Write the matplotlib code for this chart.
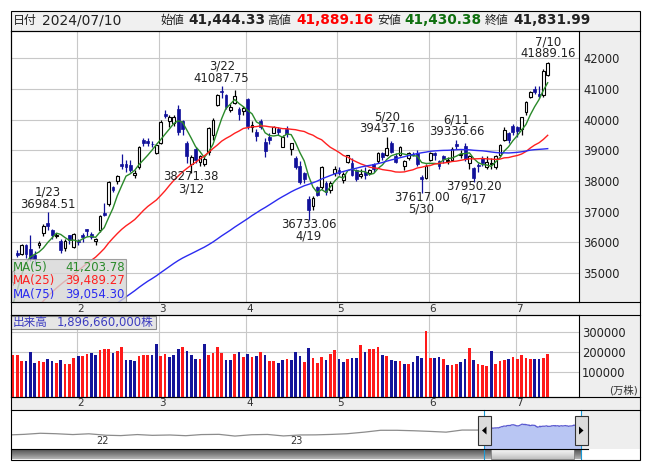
import datetime as dt
import numpy as np
import pandas as pd
import matplotlib
matplotlib.use("Agg")
import matplotlib.pyplot as plt
import matplotlib.dates as mdates
from matplotlib.patches import Rectangle, Polygon
from matplotlib.colors import LinearSegmentedColormap

plt.rcParams['font.family'] = ['DejaVu Sans', 'Noto Sans CJK JP']

# ---------------- Nikkei 225 daily data, 2024/01/11 - 2024/07/10 ----------------
dates = [
    "1/11", "1/12", "1/15", "1/16", "1/17", "1/18", "1/19", "1/22", "1/23", "1/24", "1/25", "1/26", "1/29", "1/30", "1/31",
    "2/1", "2/2", "2/5", "2/6", "2/7", "2/8", "2/9", "2/13", "2/14", "2/15", "2/16", "2/19", "2/20", "2/21", "2/22",
    "2/26", "2/27", "2/28", "2/29",
    "3/1", "3/4", "3/5", "3/6", "3/7", "3/8", "3/11", "3/12", "3/13", "3/14", "3/15", "3/18", "3/19", "3/21", "3/22",
    "3/25", "3/26", "3/27", "3/28", "3/29",
    "4/1", "4/2", "4/3", "4/4", "4/5", "4/8", "4/9", "4/10", "4/11", "4/12", "4/15", "4/16", "4/17", "4/18", "4/19",
    "4/22", "4/23", "4/24", "4/25", "4/26", "4/30",
    "5/1", "5/2", "5/7", "5/8", "5/9", "5/10", "5/13", "5/14", "5/15", "5/16", "5/17", "5/20", "5/21", "5/22", "5/23",
    "5/24", "5/27", "5/28", "5/29", "5/30", "5/31",
    "6/3", "6/4", "6/5", "6/6", "6/7", "6/10", "6/11", "6/12", "6/13", "6/14", "6/17", "6/18", "6/19", "6/20", "6/21",
    "6/24", "6/25", "6/26", "6/27", "6/28",
    "7/1", "7/2", "7/3", "7/4", "7/5", "7/8", "7/9", "7/10",
]

opens = [
    34700, 35650, 35620, 35900, 35770, 35600, 35900, 36300, 36620, 36400, 36190, 36050, 35800, 36230, 35850,
    36050, 36250, 36420, 36280, 36050, 36400, 36950, 37250, 37790, 38000, 38540, 38550, 38520, 38200, 38460,
    39350, 39300, 39220, 38900,
    39250, 40200, 39950, 39900, 40344, 39950, 39240, 38550, 39050, 38620, 38550, 38950, 39500, 40490, 40950,
    40800, 40330, 40550, 40350, 40280,
    40670, 39750, 39600, 39950, 39284, 39420, 39580, 39700, 39120, 39700, 39050, 38750, 38500, 38250, 37426,
    37200, 37800, 37808, 37930, 37700, 38250,
    38350, 38027, 38630, 38600, 38350, 38150, 38300, 38250, 38550, 38650, 38900, 38850, 39230, 38830, 38850,
    38500, 38750, 38880, 38900, 38120, 38100,
    38700, 38900, 38660, 38820, 38650, 38700, 39220, 38850, 39150, 38580, 38415, 38520, 38750, 38450, 38560,
    38450, 38850, 39344, 39550, 39800,
    39750, 39700, 40250, 40750, 41000, 40850, 40800, 41444.33,
]

highs = [
    35100, 35750, 35950, 35950, 36240, 35700, 36050, 36600, 36984.51, 36450, 36300, 36100, 36100, 36250, 36300,
    36100, 36300, 36450, 36350, 36150, 36900, 37287, 38000, 37850, 38200, 38865, 38700, 38700, 38350, 39156,
    39400, 39400, 39300, 39200,
    39990, 40314, 40150, 40150, 40472, 40000, 39300, 38850, 39100, 38850, 38850, 39750, 40050, 40850, 41087.75,
    40850, 40500, 40979, 40400, 40450,
    40697, 39950, 39700, 40030, 39400, 39550, 39800, 39750, 39500, 39780, 39250, 38800, 38650, 38300, 37500,
    37500, 37850, 38500, 38000, 38000, 38500,
    38450, 38300, 38863, 38750, 38400, 38400, 38450, 38400, 38600, 38950, 38950, 39437.16, 39300, 38900, 39150,
    38700, 38950, 38950, 39000, 38200, 38550,
    38950, 38950, 38700, 38850, 38780, 39100, 39336.66, 39000, 39250, 38850, 38450, 38600, 38800, 38800, 38750,
    38850, 39200, 39760, 39600, 39850,
    39800, 40100, 40600, 40950, 41100, 41100, 41650, 41889.16,
]

lows = [
    34600, 35530, 35600, 35500, 35380, 35300, 35800, 36200, 36400, 36100, 36150, 35650, 35700, 35950, 35800,
    35900, 36000, 36200, 36100, 35900, 36350, 36850, 37200, 37650, 37900, 38400, 38300, 38300, 38100, 38400,
    39150, 39150, 39100, 38880,
    39200, 40050, 39750, 39800, 39500, 39500, 38600, 38271.38, 38600, 38500, 38480, 38850, 39350, 40450, 40700,
    40350, 40250, 40500, 40000, 40150,
    39700, 39600, 39300, 39700, 38774, 39200, 39550, 39500, 39100, 39450, 38850, 38400, 37900, 37950, 36733.06,
    37050, 37500, 37750, 37550, 37600, 38150,
    38200, 37950, 38600, 38150, 38000, 38100, 38050, 38200, 38300, 38600, 38700, 38800, 38900, 38600, 38800,
    38367, 38700, 38800, 38500, 37617.00, 38050,
    38650, 38700, 38400, 38600, 38550, 38650, 39050, 38750, 38650, 38400, 37950.20, 38300, 38500, 38400, 38400,
    38400, 38800, 39300, 39250, 39500,
    39450, 39500, 40150, 40700, 40850, 40700, 40750, 41430.38,
]

closes = [
    35049.86, 35577.11, 35901.79, 35619.18, 35477.75, 35466.17, 35963.27, 36546.95, 36517.57, 36226.48, 36236.47,
    35751.07, 36026.94, 36065.86, 36286.71,
    36011.46, 36158.02, 36354.16, 36160.66, 36119.92, 36863.28, 36897.42, 37963.97, 37703.32, 38157.94, 38487.24,
    38470.38, 38363.61, 38262.16, 39098.68, 39233.71, 39239.52, 39208.03, 39166.19,
    39910.82, 40109.23, 40097.63, 40090.78, 39598.71, 39688.94, 38820.49, 38797.51, 38695.97, 38807.38, 38707.64,
    39740.44, 40003.60, 40815.66, 40888.43, 40414.12, 40398.03, 40762.73, 40168.07, 40369.44,
    39803.09, 39838.91, 39451.85, 39773.13, 38992.08, 39347.04, 39773.14, 39581.81, 39442.63, 39523.55, 39232.80,
    38471.20, 37961.80, 38079.70, 37068.35, 37438.61, 37552.16, 38460.08, 37628.48, 37934.76, 38405.66,
    38274.05, 38236.07, 38835.10, 38202.37, 38073.98, 38229.11, 38179.46, 38356.06, 38385.73, 38920.26, 38787.38,
    39069.68, 38946.93, 38617.10, 39103.22, 38646.11, 38900.02, 38855.37, 38556.87, 38054.13, 38487.90,
    38923.03, 38837.46, 38490.17, 38703.51, 38683.93, 39038.16, 39134.79, 38876.71, 38720.47, 38814.56, 38102.44,
    38482.11, 38570.76, 38633.02, 38596.47, 38804.65, 39173.15, 39667.07, 39341.54, 39583.08,
    39631.06, 40074.69, 40580.76, 40913.65, 40912.37, 40780.70, 41580.17, 41831.99,
]

# volume in units of 10,000 shares (万株)
volumes = [
    185000, 185000, 156000, 156000, 200000, 146000, 156000, 152000, 166000, 156000, 146000, 161000, 141000, 141000,
    170000,
    180000, 180000, 190000, 197000, 185000, 208000, 215000, 215000, 197000, 205000, 225000, 161000, 161000, 156000,
    180000, 185000, 185000, 185000, 239000,
    180000, 190000, 175000, 185000, 215000, 225000, 205000, 185000, 166000, 166000, 239000, 185000, 195000, 225000,
    195000, 161000, 161000, 190000, 200000, 175000,
    190000, 175000, 180000, 200000, 185000, 156000, 156000, 146000, 161000, 166000, 161000, 200000, 180000, 151000,
    220000, 170000, 146000, 177000, 161000, 190000, 210000,
    164000, 151000, 164000, 169000, 169000, 234000, 198000, 213000, 213000, 223000, 185000, 180000, 161000, 154000,
    154000, 141000, 141000, 151000, 180000, 170000, 303000,
    170000, 170000, 175000, 166000, 136000, 136000, 141000, 151000, 166000, 220000, 161000, 141000, 136000, 131000,
    205000, 141000, 156000, 161000, 166000, 175000,
    166000, 185000, 170000, 166000, 166000, 166000, 170000, 189666,
]

# closes before the displayed window (2023/09/20 - 2024/01/10), used for the moving averages
prior_closes = [
    33023, 32571, 32402, 32678, 32315, 32371, 31872, 31857,
    31759, 31237, 30526, 31075, 30994, 31746, 31936, 32494, 32315, 31659, 32040, 32042, 31430, 31259, 30999, 31062,
    31269, 30601, 30991, 30696, 30858,
    31601, 31949, 32708, 32271, 32166, 32646, 32568, 32585, 32695, 33519, 33424, 33585, 33388, 33354, 33451, 33625,
    33447, 33408, 33321, 33486,
    33431, 33231, 33231, 33445, 32858, 32307, 32791, 32843, 32926, 32686, 32970, 32758, 33219, 33675, 33140, 33169,
    33254, 33305, 33681, 33539, 33464,
    33288, 33377, 33763, 34441,
]

# month-end closes for the overview strip (before the displayed window)
nav_dates = [
    "2021-07-30", "2021-08-31", "2021-09-30", "2021-10-29", "2021-11-30", "2021-12-30",
    "2022-01-31", "2022-02-28", "2022-03-31", "2022-04-28", "2022-05-31", "2022-06-30",
    "2022-07-29", "2022-08-31", "2022-09-30", "2022-10-31", "2022-11-30", "2022-12-30",
    "2023-01-31", "2023-02-28", "2023-03-31", "2023-04-28", "2023-05-31", "2023-06-30",
    "2023-07-31", "2023-08-31", "2023-09-29", "2023-10-31", "2023-11-30", "2023-12-29",
]
nav_closes = [
    27283.59, 28089.54, 29452.66, 28892.69, 27821.76, 28791.71,
    27001.98, 26526.82, 27821.43, 26847.90, 27279.80, 26393.04,
    27801.64, 28091.53, 25937.21, 27587.46, 27968.99, 26094.50,
    27327.11, 27445.56, 28041.48, 28856.44, 30887.88, 33189.04,
    33172.22, 32619.34, 31857.62, 30858.85, 33486.89, 33464.17,
]

ma_periods = [5, 25, 75]
ma_colors = ['#2a8a2a', '#ff2020', '#2b2bf0']

marks = [("1/23", "high"), ("3/12", "low"), ("3/22", "high"), ("4/19", "low"), ("5/20", "high"),
         ("5/30", "low"), ("6/11", "high"), ("6/17", "low"), ("7/10", "high")]

# ---------------- figure layout (pixel based) ----------------
W, H = 653, 470
fig = plt.figure(figsize=(W / 100, H / 100), dpi=100)
fig.patch.set_facecolor('white')


def rect(x0, y0, x1, y1):
    return [x0 / W, 1 - y1 / H, (x1 - x0) / W, (y1 - y0) / H]


PANEL = '#eeeeee'
NAVY = '#10109a'
GRID = '#c8c8c8'

bg = fig.add_axes([0, 0, 1, 1], zorder=0)
bg.set_xlim(0, W)
bg.set_ylim(H, 0)
bg.axis('off')

fg = fig.add_axes([0, 0, 1, 1], zorder=10)
fg.set_xlim(0, W)
fg.set_ylim(H, 0)
fg.axis('off')
fg.patch.set_alpha(0)


def fill(ax, x0, y0, x1, y1, fc, ec='none', lw=0.0, z=1, alpha=1.0):
    ax.add_patch(Rectangle((x0, y0), x1 - x0, y1 - y0, facecolor=fc, edgecolor=ec,
                           linewidth=lw, zorder=z, alpha=alpha))


fill(bg, 10.5, 10.5, 640, 31, '#f0f0f0')
fill(bg, 579, 31, 640, 302, PANEL)
fill(bg, 11, 302, 640, 315, PANEL)
fill(bg, 579, 315, 640, 397, PANEL)
fill(bg, 11, 397, 640, 410, PANEL)
fill(bg, 581, 410, 640, 448.5, PANEL)

o = np.array(opens, float)
h = np.array(highs, float)
l = np.array(lows, float)
c = np.array(closes, float)
v = np.array(volumes, float)
x = np.arange(len(c))
XMIN, XMAX = -0.45, 130.2

months = [int(d.split('/')[0]) for d in dates]
month_idx = [i for i in range(1, len(months)) if months[i] != months[i - 1]]
month_pos = [i - 0.35 for i in month_idx]
month_lab = [str(months[i]) for i in month_idx]

# ---------------- price panel ----------------
ax = fig.add_axes(rect(11, 31, 579, 302), zorder=2)
ax.set_xlim(XMIN, XMAX)
ax.set_ylim(34053, 42891)
ax.set_facecolor('white')
ax.set_yticks(np.arange(35000, 42001, 1000))
ax.yaxis.tick_right()
ax.tick_params(axis='y', length=0, pad=3, labelsize=8.3, labelcolor='#222222')
ax.set_xticks(month_pos)
ax.tick_params(axis='x', length=0, labelbottom=False)
ax.grid(True, color=GRID, lw=0.8)
ax.set_axisbelow(True)
for s in ax.spines.values():
    s.set_color('black')
    s.set_linewidth(0.8)

up = c >= o
ax.vlines(x[up], l[up], h[up], color='black', lw=0.9, zorder=3)
ax.vlines(x[~up], l[~up], h[~up], color=NAVY, lw=0.9, zorder=3)
ax.bar(x[up], c[up] - o[up], bottom=o[up], width=0.62, facecolor='white',
       edgecolor='black', linewidth=0.8, zorder=4)
ax.bar(x[~up], o[~up] - c[~up], bottom=c[~up], width=0.66, color=NAVY,
       edgecolor=NAVY, linewidth=0.5, zorder=4)

all_close = pd.Series(prior_closes + closes, dtype=float)
ma_last = []
for p, col in zip(ma_periods, ma_colors):
    ma = all_close.rolling(p).mean().to_numpy()[len(prior_closes):]
    ax.plot(x, ma, color=col, lw=1.0, zorder=5)
    ma_last.append(ma[-1])

for d, kind in marks:
    i = dates.index(d)
    if kind == "high":
        val, dv, dd = h[i], 8, 20
    else:
        val, dv, dd = l[i], -4.3, -16.6
    ax.annotate(f"{val:.2f}", xy=(i, val), xytext=(0, dv), textcoords='offset pixels',
                ha='center', va='center', fontsize=8.4, color='#222222', zorder=7)
    ax.annotate(d, xy=(i, val), xytext=(0, dd), textcoords='offset pixels',
                ha='center', va='center', fontsize=8.4, color='#222222', zorder=7)

for mp, ml in zip(month_pos, month_lab):
    ax.annotate(ml, xy=(mp, 0), xycoords=('data', 'axes fraction'), xytext=(3.5, -6.5),
                textcoords='offset pixels', ha='center', va='center', fontsize=7.5,
                color='#333333', annotation_clip=False)

# moving-average legend box
aw, ah = 568.0, 271.0
ax.add_patch(Rectangle((0, 0), 115 / aw, 43 / ah, transform=ax.transAxes, facecolor='#d6d6d6',
                       edgecolor='#8c8c8c', linewidth=0.8, alpha=0.8, zorder=8))
for k, (p, col, val) in enumerate(zip(ma_periods, ma_colors, ma_last)):
    yy = (302 - (267 + 13.6 * k)) / ah
    ax.text(2 / aw, yy, f"MA({p})", transform=ax.transAxes, color=col, fontsize=8.5,
            ha='left', va='center', zorder=9)
    ax.text(114 / aw, yy, f"{val:,.2f}", transform=ax.transAxes, color=col, fontsize=8.5,
            ha='right', va='center', zorder=9)

# ---------------- volume panel ----------------
VB = -21700
vx = fig.add_axes(rect(11, 315, 579, 397), zorder=2)
vx.set_xlim(XMIN, XMAX)
vx.set_ylim(VB, 382300)
vx.set_facecolor('white')
prev = np.r_[prior_closes[-1], c[:-1]]
vcol = np.where(c >= prev, '#ff1a1a', '#14149a')
vx.bar(x, v - VB, bottom=VB, width=0.62, color=list(vcol), zorder=3)
vx.set_yticks([100000, 200000, 300000])
vx.yaxis.tick_right()
vx.tick_params(axis='y', length=0, pad=2, labelsize=8.3, labelcolor='#222222')
vx.set_xticks(month_pos)
vx.tick_params(axis='x', length=0, labelbottom=False)
vx.grid(True, color=GRID, lw=0.8)
vx.set_axisbelow(True)
for s in vx.spines.values():
    s.set_color('black')
    s.set_linewidth(0.8)
for mp, ml in zip(month_pos, month_lab):
    vx.annotate(ml, xy=(mp, 0), xycoords=('data', 'axes fraction'), xytext=(3.5, -6.5),
                textcoords='offset pixels', ha='center', va='center', fontsize=7.5,
                color='#333333', annotation_clip=False)

fill(fg, 11, 315.5, 156, 329.3, '#e6e6e6', ec='#8a8a8a', lw=0.8, z=3)
fg.text(12.5, 322.6, "出来高", fontsize=8.4, color='#3c3cc0', ha='left', va='center', zorder=4)
fg.text(57, 322.6, f"{int(v[-1]) * 10000:,}株", fontsize=8.4, color='#3c3cc0',
        ha='left', va='center', zorder=4)
fg.text(638, 390, "(万株)", fontsize=7.5, color='#333333', ha='right', va='center')

# ---------------- overview strip ----------------
nav = fig.add_axes(rect(11, 410, 581, 448.5), zorder=2)
nav.set_facecolor('white')
hist_x = pd.to_datetime(nav_dates)
day_x = pd.to_datetime(["2024/" + d for d in dates], format="%Y/%m/%d")
NLO, NHI = 10300, 58700
nav.plot(list(hist_x) + [day_x[0]], nav_closes + [closes[0]], color='#8c8c8c', lw=0.9)
nav.fill_between(day_x, NLO, c, color='#b9c6f3', lw=0)
nav.plot(day_x, c, color='#5a5ad0', lw=0.9)
nav.set_xlim(mdates.date2num(dt.date(2021, 8, 6)), mdates.date2num(day_x[-1]))
nav.set_ylim(NLO, NHI)
nav.set_xticks([])
nav.set_yticks([])
for s in nav.spines.values():
    s.set_visible(False)
for yr in (2022, 2023):
    nav.annotate(str(yr)[2:], xy=(mdates.date2num(dt.date(yr, 1, 1)), 0.2),
                 xycoords=('data', 'axes fraction'), xytext=(6, 0), textcoords='offset pixels',
                 ha='left', va='center', fontsize=7, color='#333333')

x_left = nav.transData.transform((mdates.date2num(day_x[0]), NLO))[0]
x_right = nav.transData.transform((mdates.date2num(day_x[-1]), NLO))[0]

# scrollbar
grad = np.linspace(0, 1, 32).reshape(-1, 1)
dark = LinearSegmentedColormap.from_list('bar', ['#4a4a4a', '#7a7a7a', '#b4b4b4'])
bg.imshow(grad, extent=(11, x_right, 459, 448.5), aspect='auto', cmap=dark, zorder=2)
light = LinearSegmentedColormap.from_list('thumb', ['#fafafa', '#e2e2e2', '#c0c0c0'])
bg.imshow(grad, extent=(x_left + 7, x_right - 7, 459, 448.5), aspect='auto', cmap=light, zorder=3)
fill(bg, x_left + 7, 448.5, x_right - 7, 459, 'none', ec='#808080', lw=0.6, z=4)
bg.set_xlim(0, W)
bg.set_ylim(H, 0)

# selection handles
for xc in (x_left, x_right):
    fg.plot([xc, xc], [410, 459], color='#1a9ad6', lw=0.8, zorder=3)
for xc, side in ((x_left, -1), (x_right, 1)):
    fill(fg, xc - 6.5, 416, xc + 6.5, 445, '#dcdcdc', ec='#333333', lw=0.8, z=4)
    fg.add_patch(Polygon([(xc + 2.5 * side, 430.5), (xc - 2 * side, 426.5), (xc - 2 * side, 434.5)],
                         closed=True, facecolor='black', edgecolor='none', zorder=5))

# frame lines
K = 0.8
fg.add_patch(Rectangle((10.5, 10.5), 629.5, 449, facecolor='none', edgecolor='black', lw=K, zorder=6))
for yy in (31, 302, 315, 397, 410):
    fg.plot([10.5, 640], [yy, yy], color='black', lw=K, zorder=6)
fg.plot([10.5, x_right + 6.5], [448.5, 448.5], color='black', lw=K, zorder=6)

# ---------------- header ----------------
hy = 20.5
fg.text(13, hy, "日付", fontsize=8.6, ha='left', va='center', color='#222222')
fg.text(42, hy, "2024/07/10", fontsize=10, ha='left', va='center', color='#222222')
head = [("始値", opens[-1], '#222222', 160, 188),
        ("高値", highs[-1], '#ff0000', 267, 296),
        ("安値", lows[-1], '#107010', 377, 404),
        ("終値", closes[-1], '#222222', 485, 513)]
for lab, val, col, xl, xv in head:
    fg.text(xl, hy, lab, fontsize=8.6, ha='left', va='center', color='#222222')
    fg.text(xv, hy, f"{val:,.2f}", fontsize=9.8, fontweight='bold', ha='left', va='center', color=col)

fig.savefig("out.png", dpi=100)
